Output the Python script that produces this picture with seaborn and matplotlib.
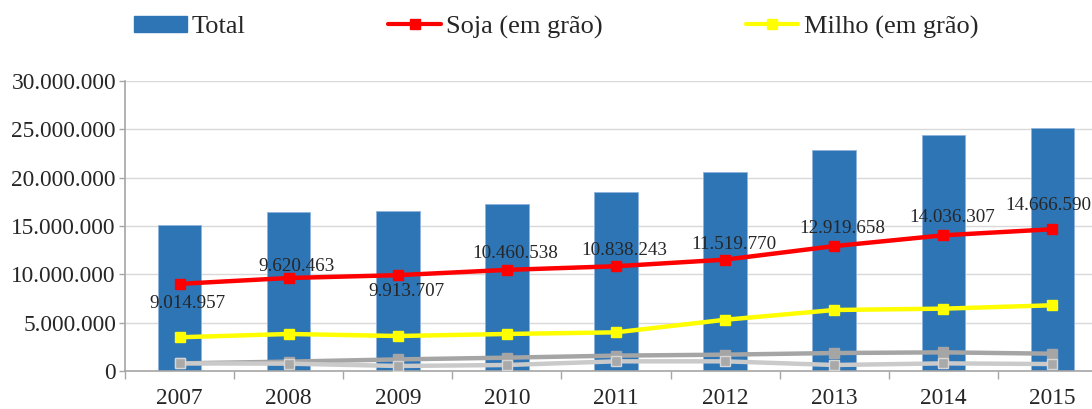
import numpy as np
import pandas as pd
import matplotlib
matplotlib.use('Agg')
import matplotlib.pyplot as plt
import seaborn as sns
from matplotlib.ticker import FuncFormatter, FixedLocator
from matplotlib.patches import Patch
from matplotlib.lines import Line2D

# Dados
anos = ['2007', '2008', '2009', '2010', '2011', '2012', '2013', '2014', '2015']
total = [15100000, 16450000, 16550000, 17270000, 18480000, 20550000, 22860000, 24450000, 25140000]
soja = [9014957, 9620463, 9913707, 10460538, 10838243, 11519770, 12919658, 14036307, 14666590]
milho = [3490000, 3830000, 3620000, 3830000, 4000000, 5300000, 6310000, 6450000, 6800000]
serie_4 = [790000, 970000, 1200000, 1380000, 1590000, 1690000, 1860000, 1930000, 1790000]
serie_5 = [790000, 760000, 520000, 620000, 1000000, 1000000, 620000, 790000, 720000]

# deslocamento vertical dos rótulos da soja (pontos)
offsets_rotulo = [-14, 8, -12, 12, 11, 11, 13, 13, 17]

df = pd.DataFrame({'Ano': anos, 'Total': total, 'Soja': soja, 'Milho': milho,
                   'S4': serie_4, 'S5': serie_5})

sns.set_theme(style='white')
plt.rcParams['font.family'] = ['Liberation Serif', 'DejaVu Serif']

fig = plt.figure(figsize=(10.92, 4.09), dpi=100)
ax = fig.add_axes([125 / 1092, 38 / 409, 982 / 1092, 290 / 409])

azul = '#2E75B6'
sns.barplot(data=df, x='Ano', y='Total', color=azul, width=0.4, ax=ax,
            saturation=1, edgecolor='#8FB4DC', linewidth=0.6, zorder=2)

estilos = [
    ('S4', '#A5A5A5', '#A5A5A5', '#A5A5A5'),
    ('S5', '#CACACA', '#A9A9A9', '#D6D6D6'),
    ('Milho', '#FFFF00', '#FFFF00', '#FFFF00'),
    ('Soja', '#FF0000', '#FF0000', '#FF0000'),
]
for col, cor, face, borda in estilos:
    sns.lineplot(data=df, x='Ano', y=col, color=cor, linewidth=3.2, marker='s',
                 markersize=7, markerfacecolor=face, markeredgecolor=borda,
                 markeredgewidth=1, sort=False, ax=ax, zorder=3)

for i, (v, off) in enumerate(zip(soja, offsets_rotulo)):
    txt = f"{v:,}".replace(',', '.')
    ax.annotate(txt, (i, v), xytext=(6 if i < 8 else -3, off), textcoords='offset points',
                ha='center', va='center', fontsize=13.8, color='#262626', zorder=4)

ax.set_ylim(0, 30000000)
ax.set_xlim(-0.5, 8.5)
ax.set_yticks(np.arange(0, 30000001, 5000000))
ax.yaxis.set_major_formatter(FuncFormatter(lambda v, p: f"{int(v):,}".replace(',', '.')))
ax.grid(axis='y', color='#D9D9D9', linewidth=1, zorder=0)
ax.set_axisbelow(True)
ax.set_xlabel('')
ax.set_ylabel('')

for s in ['top', 'right']:
    ax.spines[s].set_visible(False)
for s in ['left', 'bottom']:
    ax.spines[s].set_color('#A6A6A6')
    ax.spines[s].set_linewidth(1.2)

ax.tick_params(axis='y', length=4.5, width=1, color='#A6A6A6', pad=2,
               labelsize=16.8, labelcolor='#262626', left=True)
ax.tick_params(axis='x', which='major', length=0, pad=12, labelsize=16.8,
               labelcolor='#262626')
ax.xaxis.set_minor_locator(FixedLocator(np.arange(-0.5, 9, 1)))
ax.tick_params(axis='x', which='minor', length=5.5, width=1, color='#A6A6A6',
               bottom=True)

handles = [Patch(facecolor=azul, edgecolor=azul),
           Line2D([], [], color='#FF0000', linewidth=3, marker='s', markersize=7),
           Line2D([], [], color='#FFFF00', linewidth=3, marker='s', markersize=7)]
rotulos = ['Total', 'Soja (em grão)', 'Milho (em grão)']
fig.legend(handles, rotulos, loc='center left', bbox_to_anchor=(134 / 1092, 1 - 27 / 409),
           ncol=3, frameon=False, fontsize=19, handlelength=2.0, handleheight=0.55,
           handletextpad=0.2, columnspacing=5.4, borderpad=0, borderaxespad=0,
           labelcolor='#262626')

fig.savefig('out.png', dpi=100)
